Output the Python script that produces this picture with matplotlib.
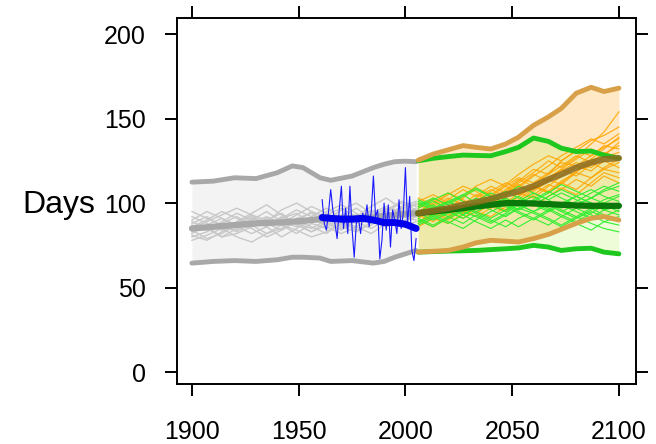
import numpy as np
import matplotlib
matplotlib.use("Agg")
import matplotlib.pyplot as plt

plt.rcParams["font.family"] = ["Liberation Sans", "DejaVu Sans"]

# ── historical model runs (1900-2005) ──────────────────────────────────────────
hist_years = [1900, 1907, 1914, 1921, 1928, 1935, 1942, 1949,
              1956, 1963, 1970, 1977, 1984, 1991, 1998, 2005]
hist_runs = [
    [88, 92, 86, 84, 90, 95, 89, 86, 92, 97, 91, 88, 94, 98, 95, 96],
    [80, 83, 88, 92, 87, 82, 85, 91, 94, 88, 84, 90, 96, 92, 89, 93],
    [92, 88, 84, 89, 94, 99, 93, 88, 85, 90, 96, 100, 94, 90, 97, 99],
    [84, 79, 82, 87, 85, 80, 84, 90, 86, 82, 88, 93, 89, 86, 91, 94],
    [86, 90, 95, 91, 86, 89, 96, 100, 95, 90, 87, 92, 98, 103, 97, 95],
    [78, 81, 85, 80, 77, 82, 87, 84, 80, 83, 89, 86, 82, 88, 92, 90],
    [90, 95, 91, 87, 92, 88, 84, 89, 95, 92, 86, 83, 89, 95, 100, 96],
    [83, 86, 80, 85, 91, 87, 91, 94, 88, 85, 92, 97, 91, 87, 93, 97],
    [87, 84, 89, 94, 90, 86, 80, 85, 90, 95, 99, 94, 88, 92, 98, 101],
    [82, 87, 91, 86, 82, 86, 92, 88, 83, 87, 93, 89, 85, 90, 88, 92],
    [95, 91, 87, 83, 88, 92, 88, 93, 98, 94, 89, 84, 87, 93, 96, 92],
    [81, 78, 83, 88, 93, 90, 94, 87, 83, 89, 85, 91, 95, 90, 86, 89],
    [89, 85, 80, 82, 86, 91, 87, 82, 88, 93, 97, 92, 90, 96, 101, 98],
    [85, 89, 93, 97, 93, 87, 91, 96, 92, 86, 82, 86, 92, 97, 94, 100],
]

env_years = [1900, 1910, 1920, 1930, 1940, 1947, 1952, 1960,
             1965, 1975, 1985, 1990, 1995, 2000, 2005]
hist_upper = [112.4, 113, 115, 114.5, 118, 122, 121, 115,
              113.5, 116, 121, 123, 124.5, 124.8, 124.5]
hist_lower = [64.5, 65.5, 66, 65.5, 66.5, 68, 68, 67.5,
              65.5, 66, 64.5, 65.5, 68, 70, 72]
hist_mean = [85, 86, 87, 88, 88.5, 89, 89.5, 90.5,
             90.8, 91.2, 91.5, 92.5, 93, 93.5, 94]

# ── observations ───────────────────────────────────────────────────────────────
obs_years = list(range(1961, 2006))
obs_vals = [102, 88, 84, 95, 108, 96, 88, 79, 96, 110,
            85, 97, 82, 110, 85, 68, 88, 91, 82, 94,
            89, 99, 86, 95, 116, 92, 96, 67, 78, 100,
            84, 99, 74, 96, 90, 82, 102, 85, 94, 121,
            88, 104, 72, 66, 79]
obs_smooth_years = [1961, 1965, 1970, 1975, 1980, 1985, 1990, 1995, 2000, 2005]
obs_smooth = [91.5, 91, 90.5, 90.5, 91, 90, 88.5, 88.5, 87.5, 85]

# ── scenario runs (2006-2100) ──────────────────────────────────────────────────
fut_years = [2006, 2013, 2020, 2027, 2033, 2040, 2047, 2053,
             2060, 2067, 2073, 2080, 2087, 2093, 2100]
high_runs = [
    [95, 100, 106, 102, 98, 104, 110, 115, 112, 118, 124, 122, 128, 133, 138],
    [92, 97, 93, 99, 105, 101, 107, 113, 120, 117, 125, 131, 128, 134, 132],
    [100, 96, 102, 108, 104, 110, 106, 112, 118, 125, 121, 127, 135, 142, 154],
    [88, 93, 98, 94, 100, 97, 103, 100, 108, 114, 111, 118, 115, 121, 126],
    [97, 103, 99, 95, 101, 107, 112, 109, 116, 122, 128, 133, 138, 135, 141],
    [90, 86, 92, 98, 95, 92, 98, 104, 110, 106, 112, 119, 124, 120, 118],
    [103, 99, 105, 110, 107, 101, 105, 111, 107, 113, 120, 116, 123, 129, 134],
    [86, 91, 88, 94, 99, 104, 100, 106, 103, 110, 116, 122, 119, 125, 121],
    [94, 98, 103, 99, 94, 99, 96, 102, 109, 115, 120, 126, 132, 128, 136],
    [99, 95, 91, 97, 103, 108, 104, 110, 117, 113, 119, 124, 121, 127, 130],
    [91, 96, 101, 97, 92, 97, 103, 99, 105, 111, 108, 114, 110, 116, 112],
    [96, 92, 97, 103, 109, 105, 111, 117, 123, 128, 125, 131, 137, 140, 145],
    [89, 94, 90, 96, 101, 98, 95, 101, 98, 104, 109, 105, 112, 118, 115],
    [101, 105, 100, 104, 110, 114, 110, 105, 111, 117, 122, 128, 124, 130, 127],
    [93, 89, 95, 91, 97, 103, 99, 104, 110, 107, 113, 118, 126, 132, 139],
    [98, 102, 96, 101, 97, 102, 108, 114, 110, 106, 112, 108, 115, 120, 124],
]
low_runs = [
    [95, 99, 94, 98, 103, 99, 95, 100, 104, 99, 95, 99, 103, 100, 104],
    [90, 86, 91, 95, 92, 88, 93, 97, 94, 90, 86, 91, 95, 92, 96],
    [98, 102, 106, 101, 97, 102, 107, 103, 99, 104, 108, 104, 100, 96, 100],
    [92, 96, 92, 88, 93, 89, 94, 99, 95, 100, 96, 92, 88, 85, 83],
    [100, 96, 100, 105, 109, 104, 100, 96, 101, 106, 111, 107, 103, 108, 112],
    [88, 92, 97, 93, 89, 85, 90, 86, 91, 96, 92, 97, 93, 89, 92],
    [96, 92, 88, 93, 98, 102, 98, 94, 90, 95, 99, 104, 100, 96, 98],
    [93, 97, 101, 105, 100, 96, 92, 97, 101, 97, 93, 89, 94, 99, 95],
    [102, 98, 94, 99, 95, 91, 96, 101, 106, 102, 97, 101, 106, 110, 107],
    [89, 93, 89, 85, 90, 95, 99, 95, 91, 87, 92, 88, 84, 89, 87],
    [97, 101, 97, 93, 97, 101, 105, 110, 106, 102, 106, 102, 98, 102, 105],
    [91, 87, 92, 96, 100, 104, 100, 96, 100, 96, 100, 104, 108, 104, 101],
    [99, 103, 99, 104, 108, 104, 100, 104, 99, 95, 99, 95, 91, 96, 93],
    [94, 90, 94, 98, 94, 90, 86, 91, 95, 99, 95, 91, 96, 100, 97],
    [87, 91, 95, 91, 95, 99, 103, 99, 95, 91, 87, 92, 97, 93, 90],
    [101, 97, 101, 97, 101, 106, 102, 98, 102, 107, 103, 99, 103, 107, 110],
]

high_upper = [125.4, 129, 131.5, 134, 133, 132, 135, 139,
              146, 151, 156, 165, 168.5, 166, 168]
high_lower = [71, 71.5, 72, 74, 76.5, 78, 77.5, 77,
              79, 81.5, 84.5, 88, 91, 92, 90]
high_mean = [94, 95.5, 97, 99, 100.5, 102.5, 105, 107,
             110, 114, 117, 121, 124, 126, 126.6]
low_upper = [125, 126.5, 127.5, 128.4, 128.2, 128, 130.5, 133,
             138.5, 136.5, 132.5, 130.5, 130.8, 128.4, 126.6]
low_lower = [71, 71.3, 71.6, 71.8, 72, 72.5, 73, 73.5,
             75, 74, 72, 73, 73.3, 71, 70]
low_mean = [94, 95, 96, 97, 98, 99, 100, 100,
            99.8, 99.4, 99, 98.6, 98.4, 98.4, 98.4]

# ── figure ─────────────────────────────────────────────────────────────────────
fig = plt.figure(figsize=(6.56, 4.44), dpi=100)
ax = fig.add_axes([0.2698, 0.1351, 0.6997, 0.8244])

# historical envelope
ax.fill_between(env_years, hist_lower, hist_upper, color="#f3f3f3", lw=0, zorder=1)
for r in hist_runs:
    ax.plot(hist_years, r, color="#c8c8c8", lw=1.0, zorder=2)
for y in (hist_upper, hist_lower):
    ax.plot(env_years, y, color="#a8a8a8", lw=3.5, solid_capstyle="round", zorder=3)
ax.plot(env_years, hist_mean, color="#a8a8a8", lw=4.5, solid_capstyle="round", zorder=3)

# scenario envelopes
ax.fill_between(fut_years, high_lower, high_upper, color="#ffe8c6", lw=0, zorder=1)
ax.fill_between(fut_years, low_lower, low_upper, color="#aaf037", alpha=0.2, lw=0, zorder=1)
for r in high_runs:
    ax.plot(fut_years, r, color="#ffa500", lw=0.9, alpha=0.85, zorder=2)
for r in low_runs:
    ax.plot(fut_years, r, color="#33ee33", lw=0.8, zorder=2)
for y in (low_upper, low_lower):
    ax.plot(fut_years, y, color="#1ec81e", lw=3.5, solid_capstyle="round", zorder=3)
for y in (high_upper, high_lower):
    ax.plot(fut_years, y, color="#d8a048", lw=3.5, solid_capstyle="round", zorder=3)
ax.plot(fut_years, low_mean, color="#0a780a", lw=4.5, solid_capstyle="round", zorder=4)
ax.plot(fut_years, high_mean, color="#8a6a1e", lw=4.5, alpha=0.85,
        solid_capstyle="round", zorder=4)

# observations
ax.plot(obs_years, obs_vals, color="#1a1aff", lw=0.8, zorder=5)
ax.plot(obs_smooth_years, obs_smooth, color="#0000ee", lw=5, solid_capstyle="round", zorder=6)

# axes formatting
ax.set_xlim(1893, 2108)
ax.set_ylim(-7, 209.5)
ax.set_xticks([1900, 1950, 2000, 2050, 2100])
ax.set_yticks([0, 50, 100, 150, 200])
ax.tick_params(direction="out", length=8.6, width=1.4, top=True, right=True,
               labelsize=18)
ax.tick_params(axis="y", pad=14)
ax.tick_params(axis="x", pad=17)
for s in ax.spines.values():
    s.set_linewidth(1.4)

fig.text(22 / 656, 1 - 213 / 444, "Days", ha="left", va="baseline", fontsize=23)

fig.savefig("out.png", dpi=100)
